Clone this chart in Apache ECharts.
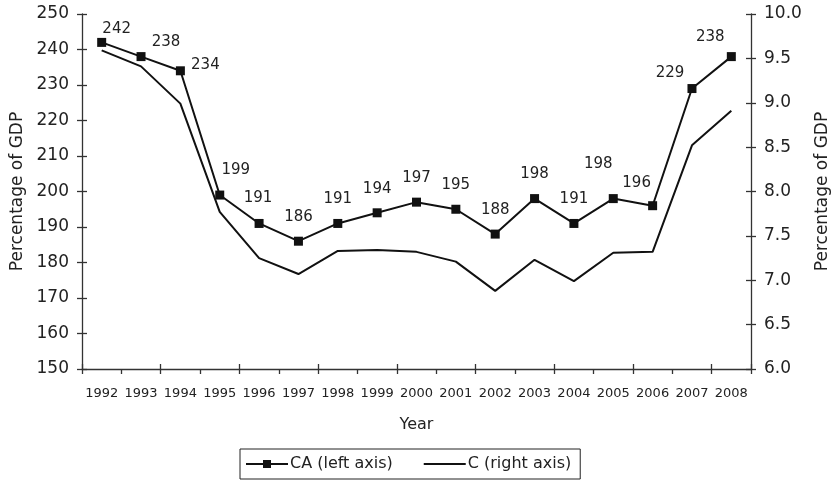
<!DOCTYPE html>
<html>
<head>
<meta charset="utf-8">
<script src="https://cdn.jsdelivr.net/npm/echarts@6/dist/echarts.min.js"></script>
<style>html,body{margin:0;padding:0;background:#fff;}#c{width:833px;height:481px;}</style>
</head>
<body>
<div id="c"></div>
<script>
const years = ['1992','1993','1994','1995','1996','1997','1998','1999','2000','2001','2002','2003','2004','2005','2006','2007','2008'];
const caValues = [242,238,234,199,191,186,191,194,197,195,188,198,191,198,196,229,238];
const cValues = [9.59,9.41,8.99,7.77,7.25,7.07,7.33,7.34,7.32,7.21,6.88,7.23,6.99,7.31,7.32,8.52,8.91];
const leftTicks = [150,160,170,180,190,200,210,220,230,240,250];
const rightTicks = ['6.0','6.5','7.0','7.5','8.0','8.5','9.0','9.5','10.0'];
const caName = 'CA (left axis)';
const cName = 'C (right axis)';
const yTitle = 'Percentage of GDP';
const xTitle = 'Year';

// label placement (style, not data)
const labelOffsets = [[15,-13],[25,-14],[25,-6],[16,-25],[-1,-25],[0,-24],[0,-24],[0,-24],[0,-24],[0,-24],[0,-24],[0,-24],[0,-24],[-15,-34],[-16,-23],[-22,-15],[-21,-19]];

const FONT = 'DejaVu Sans';
const TXT = '#222';
const AX = '#333';

const chart = echarts.init(document.getElementById('c'), null, {renderer: 'canvas'});

const leftMin = leftTicks[0], leftMax = leftTicks[leftTicks.length-1];
const leftInt = leftTicks[1]-leftTicks[0];
const rightMin = parseFloat(rightTicks[0]), rightMax = parseFloat(rightTicks[rightTicks.length-1]);
const rightInt = parseFloat(rightTicks[1]) - parseFloat(rightTicks[0]);

const caData = caValues.map((v,i) => ({
  value: v,
  label: {offset: labelOffsets[i]}
}));

const option = {
  animation: false,
  backgroundColor: '#fff',
  textStyle: {fontFamily: FONT, color: TXT},
  grid: {left: 82, right: 82, top: 14, bottom: 112, containLabel: false, outerBoundsMode: 'none'},
  legend: {
    left: 240, top: 449,
    padding: [7, 9, 7, 5],
    borderColor: '#222', borderWidth: 1,
    itemWidth: 42, itemHeight: 10, itemGap: 30,
    textStyle: {fontFamily: FONT, fontSize: 16, color: TXT, padding: [0, 0, 0, -3]},
    data: [{name: caName}, {name: cName, itemStyle: {opacity: 0}}]
  },
  xAxis: [{
    type: 'category', data: years, boundaryGap: true,
    name: xTitle, nameLocation: 'middle', nameGap: 48,
    nameTextStyle: {fontFamily: FONT, fontSize: 16, color: TXT},
    axisLine: {lineStyle: {color: AX, width: 1.3}},
    axisTick: {show: true, inside: false, length: 5, lineStyle: {color: AX, width: 1.3}},
    axisLabel: {fontFamily: FONT, fontSize: 13, color: TXT, margin: 18, interval: 0},
    splitLine: {show: false}
  }, {
    type: 'category', data: years, boundaryGap: true, position: 'bottom',
    axisLine: {show: false},
    axisTick: {show: true, inside: true, length: 5, lineStyle: {color: AX, width: 1.3}},
    axisLabel: {show: false}, splitLine: {show: false}
  }],
  yAxis: [{
    type: 'value', position: 'left', min: leftMin, max: leftMax, interval: leftInt,
    name: yTitle, nameLocation: 'middle', nameGap: 47, nameRotate: 90,
    nameTextStyle: {fontFamily: FONT, fontSize: 17, color: TXT},
    axisLine: {show: true, lineStyle: {color: AX, width: 1.3}},
    axisTick: {show: true, inside: false, length: 5, lineStyle: {color: AX, width: 1.3}},
    axisLabel: {fontFamily: FONT, fontSize: 17, color: TXT, margin: 13},
    splitLine: {show: false}
  }, {
    type: 'value', position: 'right', min: rightMin, max: rightMax, interval: rightInt,
    name: yTitle, nameLocation: 'middle', nameGap: 63, nameRotate: 90,
    nameTextStyle: {fontFamily: FONT, fontSize: 17, color: TXT},
    axisLine: {show: true, lineStyle: {color: AX, width: 1.3}},
    axisTick: {show: true, inside: false, length: 5, lineStyle: {color: AX, width: 1.3}},
    axisLabel: {fontFamily: FONT, fontSize: 17, color: TXT, margin: 13,
      formatter: v => v.toFixed(1)},
    splitLine: {show: false}
  }, {
    type: 'value', position: 'left', min: leftMin, max: leftMax, interval: leftInt,
    axisLine: {show: false},
    axisTick: {show: true, inside: true, length: 5, lineStyle: {color: AX, width: 1.3}},
    axisLabel: {show: false}, splitLine: {show: false}
  }, {
    type: 'value', position: 'right', min: rightMin, max: rightMax, interval: rightInt,
    axisLine: {show: false},
    axisTick: {show: true, inside: true, length: 5, lineStyle: {color: AX, width: 1.3}},
    axisLabel: {show: false}, splitLine: {show: false}
  }],
  series: [{
    name: caName, type: 'line', xAxisIndex: 0, yAxisIndex: 0,
    data: caData,
    symbol: 'rect', symbolSize: 9, showAllSymbol: true,
    itemStyle: {color: '#111'},
    lineStyle: {color: '#111', width: 2},
    label: {show: true, position: 'inside', fontFamily: FONT, fontSize: 15, color: TXT},
    z: 3
  }, {
    name: cName, type: 'line', xAxisIndex: 0, yAxisIndex: 1,
    data: cValues,
    symbol: 'none',
    itemStyle: {color: '#111'},
    lineStyle: {color: '#111', width: 2},
    z: 2
  }]
};
chart.setOption(option);
</script>
</body>
</html>
